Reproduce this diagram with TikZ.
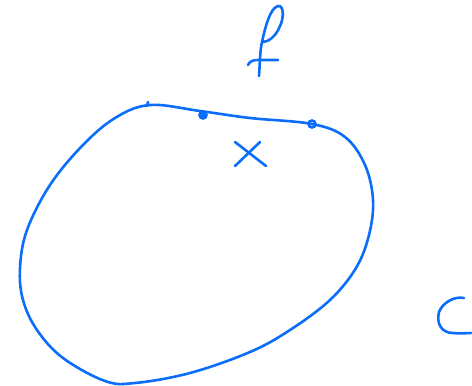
\documentclass[tikz,border=0pt]{standalone}
\definecolor{pen}{RGB}{10,110,250}
\begin{document}
\begin{tikzpicture}[x=1pt,y=-1pt,
  ink/.style={draw=pen,line width=2.6pt,line cap=round,line join=round},
  dotmark/.style={draw=pen,line width=2.6pt,circle,inner sep=0pt,minimum size=7pt}]
\useasboundingbox (0,0) rectangle (472,386);
% f
\draw[ink] (259,76) .. controls (260,62) and (260,50) .. (262,42)
  .. controls (265,28) and (270,8) .. (278,6)
  .. controls (284,5) and (284,18) .. (280,26)
  .. controls (276,36) and (269,42) .. (262,42);
\draw[ink] (248,65) .. controls (250,61) and (253,60) .. (258,60)
  .. controls (265,60) and (272,60) .. (278,60);
% loop
\draw[ink] plot[smooth cycle,tension=0.6] coordinates {
 (150,105) (200,111) (250,118) (312,124) (345,137) (365,165)
 (373,200) (369,235) (356,268) (330,300) (290,330) (250,352)
 (190,373) (135,383) (105,381) (63,358) (37,330) (23,300)
 (20,268) (27,230) (50,185) (82,146) (115,118)};
\draw[ink] (147,106) -- (148,102);
% dots
\node[dotmark,fill=pen] (d1) at (203,115) {};
\node[dotmark] (d2) at (312,124) {};
% x
\draw[ink] (235,142) -- (266,166);
\draw[ink] (260,142) -- (235,166);
% c
\draw[ink] (464,298) .. controls (455,296) and (443,302) .. (439,312)
  .. controls (436,324) and (442,333) .. (453,333)
  .. controls (460,334) and (466,333) .. (471,333);
\end{tikzpicture}
\end{document}
